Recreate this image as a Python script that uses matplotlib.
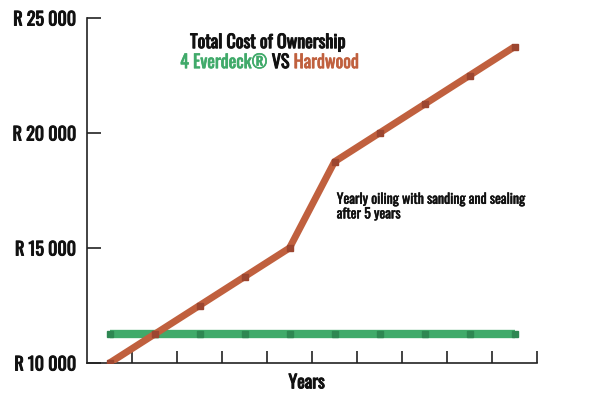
import matplotlib
matplotlib.use("Agg")
import matplotlib.pyplot as plt
import matplotlib.patheffects as pe
from matplotlib import font_manager

# Data
years = [0, 1, 2, 3, 4, 5, 6, 7, 8, 9]
hardwood = [10000, 11250, 12500, 13750, 15000, 18750, 20000, 21250, 22500, 23750]
everdeck = [11250] * 10
y_ticks = [10000, 15000, 20000, 25000]
y_labels = ["R 10 000", "R 15 000", "R 20 000", "R 25 000"]
x_ticks = [0.5, 1.5, 2.5, 3.5, 4.5, 5.5, 6.5, 7.5, 8.5, 9.5]

# condensed look: pick the first narrow face that is installed
names = {f.name for f in font_manager.fontManager.ttflist}
FONT = "DejaVu Sans"
for cand in ["Oswald", "League Gothic", "Roboto Condensed", "PT Sans Narrow",
             "Archivo Narrow", "Liberation Sans Narrow"]:
    if cand in names:
        FONT = cand
        break
plt.rcParams["font.family"] = [FONT, "DejaVu Sans"]
condensed = FONT != "DejaVu Sans"
S_TICK = 13 if condensed else 10
S_TITLE = 13 if condensed else 10.5
S_NOTE = 10 if condensed else 7.5


def heavy(color, lw=0.7):
    # thicken the strokes a little, the face has no real bold
    return [pe.withStroke(linewidth=lw, foreground=color)]


BROWN = "#c0603e"
BROWN_DK = "#9c4630"
GREEN = "#40aa6a"
GREEN_DK = "#2e8752"
INK = "#111111"

fig = plt.figure(figsize=(6, 4), dpi=100)
ax = fig.add_axes([0.145, 0.0925, 0.75, 0.8625])

ax.plot(years, everdeck, color=GREEN, linewidth=6, solid_capstyle="butt",
        marker="s", markersize=4, markerfacecolor=GREEN_DK, markeredgecolor=GREEN_DK, zorder=2)
ax.plot(years, hardwood, color=BROWN, linewidth=5, solid_capstyle="butt",
        marker="s", markersize=4, markerfacecolor=BROWN_DK, markeredgecolor=BROWN_DK, zorder=3)

ax.set_xlim(-0.5, 9.5)
ax.set_ylim(10000, 25000)
ax.set_yticks(y_ticks)
ax.set_yticklabels(y_labels, fontsize=S_TICK, fontweight="bold", color=INK)
for lab in ax.get_yticklabels():
    lab.set_path_effects(heavy(INK))
ax.set_xticks(x_ticks)
ax.set_xticklabels([])
ax.tick_params(axis="y", direction="in", length=10, width=1.2, color="#222222", pad=8)
ax.tick_params(axis="x", direction="in", length=9, width=1.2, color="#222222")
for side in ("top", "right"):
    ax.spines[side].set_visible(False)
for side in ("left", "bottom"):
    ax.spines[side].set_color("#222222")
    ax.spines[side].set_linewidth(1.2)

ax.set_xlabel("Years", fontsize=S_TICK, fontweight="bold", color=INK,
              path_effects=heavy(INK))
ax.xaxis.set_label_coords(0.488, -0.03)
ax.xaxis.label.set_va("top")

# title block
ax.text(3.52, 23950, "Total Cost of Ownership", ha="center", va="center",
        fontsize=S_TITLE, fontweight="bold", color=INK, path_effects=heavy(INK))
t1 = ax.text(1.57, 23080, "4 Everdeck\u00ae", ha="left", va="center",
             fontsize=S_TITLE, fontweight="bold", color=GREEN, path_effects=heavy(GREEN, 0.5))
t2 = ax.annotate(" VS ", xy=(1, 0.5), xycoords=t1, ha="left", va="center",
                 fontsize=S_TITLE, fontweight="bold", color=INK, path_effects=heavy(INK))
ax.annotate("Hardwood", xy=(1, 0.5), xycoords=t2, ha="left", va="center",
            fontsize=S_TITLE, fontweight="bold", color=BROWN, path_effects=heavy(BROWN, 0.5))

ax.text(5.05, 16800, "Yearly oiling with sanding and sealing\nafter 5 years",
        ha="left", va="center", fontsize=S_NOTE, fontweight="bold", color=INK,
        linespacing=1.15, path_effects=heavy(INK, 0.35))

fig.savefig("out.png", dpi=100)
